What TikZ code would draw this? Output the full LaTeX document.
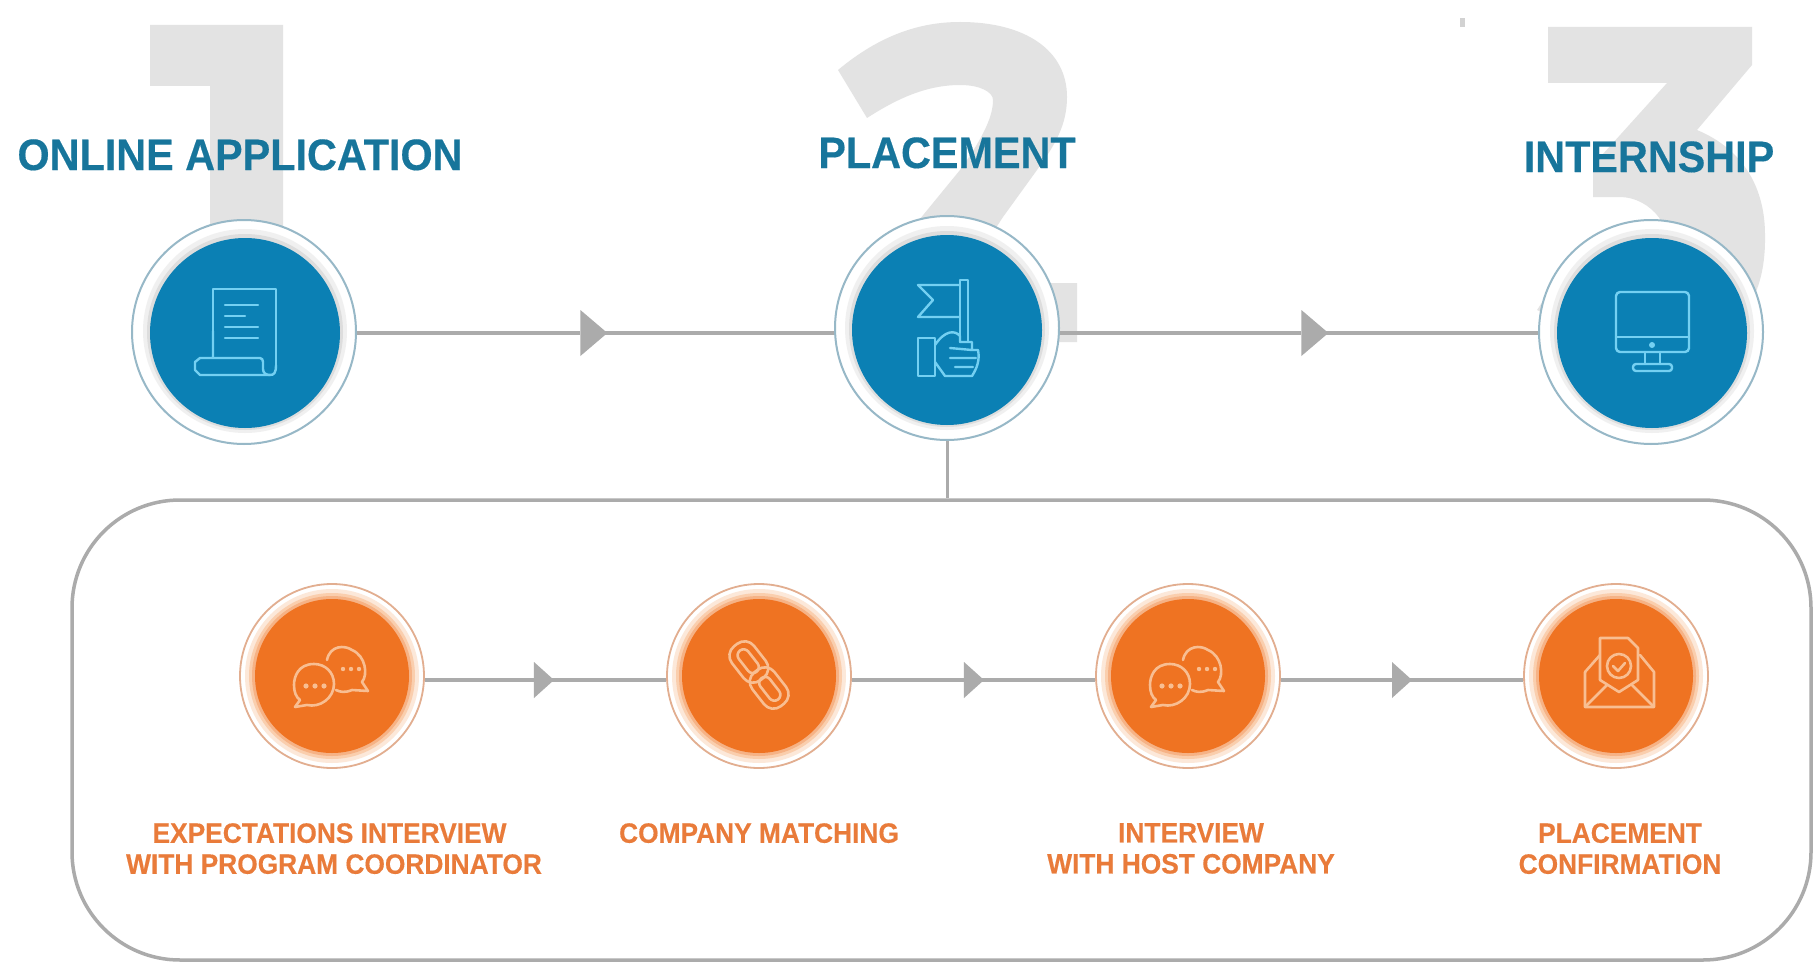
\documentclass[tikz,border=0pt]{standalone}
\usepackage{fontspec}
\setmainfont{Liberation Sans}[FakeStretch=0.94,BoldFeatures={FakeStretch=0.94,FakeBold=0.35}]
\usetikzlibrary{shapes.geometric}
\definecolor{blu}{HTML}{0B80B4}
\definecolor{blutxt}{HTML}{17759B}
\definecolor{bluic}{HTML}{74D0F2}
\definecolor{org}{HTML}{EF7322}
\definecolor{orgtxt}{HTML}{E97B3A}
\definecolor{orgic}{HTML}{F8BE92}
\definecolor{dig}{HTML}{E3E3E3}
\definecolor{lin}{HTML}{ABABAB}
\tikzset{
 x=1pt,y=-1pt,
 conn/.style={draw=lin,line width=3.5pt},
 bigc/.style={circle,draw=none,fill=blu,minimum size=190pt,inner sep=0pt},
 bigo/.style={circle,draw=lin!60!blu!70!white,line width=2pt,fill=white,minimum size=224pt,inner sep=0pt},
 smc/.style={circle,draw=none,fill=org,minimum size=154pt,inner sep=0pt},
 smo/.style={circle,draw=orgtxt!55!white!85!gray,line width=1.8pt,fill=white,minimum size=184pt,inner sep=0pt},
 tria/.style={isosceles triangle,isosceles triangle apex angle=82,isosceles triangle stretches,fill=lin,draw=none,inner sep=0pt,minimum height=#1,shape border rotate=0},
 ttl/.style={font=\bfseries\fontsize{44}{44}\selectfont,text=blutxt,inner sep=0pt,anchor=base},
 sub/.style={font=\bfseries\fontsize{28}{31}\selectfont,text=orgtxt,inner sep=0pt,anchor=north,align=center},
 icb/.style={draw=bluic,line width=2.4pt,line join=round,line cap=round},
 ico/.style={draw=orgic,line width=2.6pt,line join=round,line cap=round},
}
\begin{document}
\begin{tikzpicture}
\useasboundingbox (0,0) rectangle (1814,963);
\fill[white] (0,0) rectangle (1814,963);
% big digits
\fill[dig] (150,25)--(283,25)--(283,240)--(210,240)--(210,86)--(150,86)--cycle;
\fill[dig] (838,70) .. controls (880,35) and (920,22) .. (960,22)
  .. controls (1025,22) and (1067,50) .. (1067,97)
  .. controls (1067,125) and (1055,145) .. (1037,170)
  -- (1003,217) -- (960,283) -- (1077,283) -- (1077,342) -- (915,342) -- (915,225)
  -- (960,170) .. controls (985,135) and (993,115) .. (993,100)
  .. controls (993,92) and (980,85) .. (960,85)
  .. controls (925,85) and (895,100) .. (867,118) -- cycle;
\fill[dig] (1548,27) -- (1752,27) -- (1752,65) -- (1697,130)
  .. controls (1745,150) and (1765,190) .. (1765,235)
  .. controls (1766,290) and (1745,330) .. (1700,340) -- (1600,340)
  -- (1537,310) -- (1560,275) -- (1600,290) -- (1660,260)
  .. controls (1680,230) and (1650,197) .. (1620,197)
  -- (1593,197) -- (1593,165) -- (1667,83) -- (1548,83) -- cycle;
\fill[gray!35] (1460,18) rectangle (1465,27);
% titles
\node[ttl] (t1) at (240,170) {ONLINE APPLICATION};
\node[ttl] (t2) at (947,168) {PLACEMENT};
\node[ttl] (t3) at (1649,172) {INTERNSHIP};
% panel
\node[draw=lin,line width=3.5pt,rounded corners=108pt,minimum width=1739pt,minimum height=460pt,inner sep=0pt] (panel) at (941.5,730) {};
% top row
\node[bigo] (o1) at (244,332) {};
\node[bigo] (o2) at (947,328) {};
\node[bigo] (o3) at (1651,332) {};
\foreach \n/\x/\y in {1/245/333,2/947/330,3/1652/333}{
 \fill[black!25,opacity=.22] (\x,\y-2) circle (102pt);
 \fill[black!30,opacity=.30] (\x,\y-1) circle (98pt);
}
\node[bigc] (c1) at (245,333) {};
\node[bigc] (c2) at (947,330) {};
\node[bigc] (c3) at (1652,333) {};
\node[tria=27pt,minimum width=46pt] (a1) at (591,333) {};
\node[tria=27pt,minimum width=46pt] (a2) at (1312,333) {};
\draw[conn] (a1 -| o1.east) -- (a1.west);
\draw[conn] (a1.center) -- (a1 -| o2.west);
\draw[conn] (a2 -| o2.east) -- (a2.west);
\draw[conn] (a2.center) -- (a2 -| o3.west);
\draw[conn,line width=3pt] (o2.south) -- (o2.south |- panel.north);
% bottom row
\foreach \n/\x in {1/332,2/759,3/1188,4/1616}{
 \node[smo] (so\n) at (\x,676) {};
 \fill[orgic!35!white] (\x,676) circle (87pt);
 \fill[orgic!75!white] (\x,676) circle (83pt);
 \fill[org!55!white] (\x,676) circle (80pt);
 \node[smc] (sc\n) at (\x,676) {};
}
\node[tria=20pt,minimum width=36pt] (b1) at (542,680) {};
\node[tria=20pt,minimum width=36pt] (b2) at (972,680) {};
\node[tria=20pt,minimum width=36pt] (b3) at (1400,680) {};
\draw[conn] (b1 -| so1.east) -- (b1.west);
\draw[conn] (b1.center) -- (b1 -| so2.west);
\draw[conn] (b2 -| so2.east) -- (b2.west);
\draw[conn] (b2.center) -- (b2 -| so3.west);
\draw[conn] (b3 -| so3.east) -- (b3.west);
\draw[conn] (b3.center) -- (b3 -| so4.west);
% labels
\node[sub] (l1) at (334,823) {EXPECTATIONS INTERVIEW\hspace*{9pt}\\WITH PROGRAM COORDINATOR};
\node[sub] (l2) at (759,823) {COMPANY MATCHING};
\node[sub] (l3) at (1191,823) {INTERVIEW\\WITH HOST COMPANY};
\node[sub] (l4) at (1620,823) {PLACEMENT\\CONFIRMATION};
% document icon
\begin{scope}[icb]
\draw (213,331) -- (213,289) -- (276,289) -- (276,365);
\draw (213,358) -- (260,358) .. controls (262,358) and (263,360) .. (263,362) -- (263,369) .. controls (263,373) and (266,375) .. (270,375) .. controls (274,375) and (276,373) .. (276,365);
\draw (213,331) -- (213,358) -- (200,358) -- (195,362) -- (195,370) -- (200,375) -- (270,375);
\draw (225,305) -- (258,305) (225,316) -- (245,316) (225,327) -- (258,327) (225,338) -- (258,338);
\end{scope}
% flag and fist icon
\begin{scope}[icb]
\draw (960,280) -- (968,280) -- (968,342) (960,280) -- (960,342);
\draw (960,285) -- (918,285) -- (933,300) -- (918,317) -- (960,317);
\draw (918,338) -- (935,338) -- (935,376) -- (918,376) -- cycle;
\draw (935,345) .. controls (945,330) and (955,330) .. (960,336) -- (960,342) -- (972,342) -- (972,350) -- (978,350) .. controls (980,360) and (977,368) .. (972,376) -- (945,376) -- (935,362);
\draw (950,348) -- (972,350) (950,358) -- (976,358) (955,367) -- (973,367);
\end{scope}
% monitor icon
\begin{scope}[icb]
\draw[rounded corners=4pt] (1616,292) rectangle (1689,352);
\draw (1616,337) -- (1689,337);
\fill[bluic] (1652,345) circle (3pt);
\draw (1645,352) -- (1645,364) (1660,352) -- (1660,364);
\draw[rounded corners=3pt] (1633,364) rectangle (1672,371);
\end{scope}
% chat icons
\foreach \cx in {0,856}{
\begin{scope}[ico,xshift=\cx]
\draw (327,660) .. controls (330,645) and (345,645) .. (352,650) .. controls (366,656) and (368,675) .. (362,682) -- (368,691) -- (352,690) .. controls (345,693) and (340,692) .. (336,690);
\draw (314,664) .. controls (298,664) and (294,677) .. (294,685) .. controls (294,692) and (296,697) .. (300,700) -- (295,707) -- (307,705) .. controls (320,708) and (334,698) .. (334,684) .. controls (334,672) and (325,664) .. (314,664) -- cycle;
\foreach \p in {306,315,324}{\fill[orgic] (\p,686) circle (2.6pt);}
\foreach \p in {343,351,359}{\fill[orgic] (\p,669) circle (2.2pt);}
\end{scope}
}
% link icon
\begin{scope}[ico,shift={(759,675)},rotate=-52]
\draw[rounded corners=12pt] (-38,-14) rectangle (5,14);
\draw[rounded corners=6pt] (-31,-6) rectangle (-4,6);
\draw[rounded corners=12pt] (-5,-14) rectangle (38,14);
\draw[rounded corners=6pt] (4,-6) rectangle (31,6);
\end{scope}
% envelope icon
\begin{scope}[ico]
\draw (1585,672) -- (1585,707) -- (1654,707) -- (1654,672) -- (1640,655);
\draw (1585,672) -- (1600,655);
\draw (1585,707) -- (1607,685) (1654,707) -- (1632,685);
\draw (1600,680) -- (1600,638) -- (1628,638) -- (1638,648) -- (1638,680);
\draw (1600,680) -- (1619,692) -- (1638,680);
\draw (1619,666) circle (12pt);
\draw (1613,666) -- (1618,671) -- (1625,663);
\end{scope}
\end{tikzpicture}
\end{document}
